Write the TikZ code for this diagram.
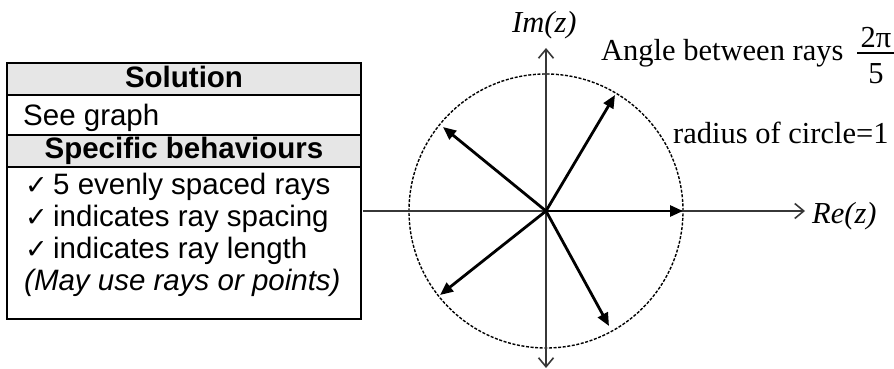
\documentclass[tikz,border=0pt]{standalone}
\usepackage{fontspec}
\setmainfont{Liberation Serif}
\newfontfamily\tabfont{Liberation Sans}
\newfontfamily\symfont{DejaVu Sans}
\usetikzlibrary{arrows.meta}
\definecolor{headgray}{RGB}{230,230,230}
\definecolor{axisgray}{RGB}{55,55,55}
\begin{document}
\begin{tikzpicture}[x=1pt,y=-1pt,
  cellbox/.style={draw=black,line width=2pt},
  headbox/.style={cellbox,fill=headgray},
  ttext/.style={anchor=base west,inner sep=0pt,font=\tabfont\fontsize{29.5}{34}\selectfont},
  thead/.style={anchor=base,inner sep=0pt,font=\tabfont\bfseries\fontsize{29.5}{34}\selectfont},
  tick/.style={anchor=base west,inner sep=0pt,font=\symfont\fontsize{27}{32}\selectfont},
  serif/.style={anchor=base west,inner sep=0pt,font=\fontsize{30.5}{36}\selectfont},
  axisline/.style={draw=axisgray,line width=2pt},
  barb/.tip={Straight Barb[length=9pt,width=15pt,line width=1.6pt]},
  ray/.style={draw=black,line width=2.8pt,-{Triangle[length=13pt,width=11pt]}},
  unitcircle/.style={draw=black,line width=1.4pt,dash pattern=on 3pt off 1.6pt}
]
\useasboundingbox (0,0) rectangle (894,369);

% ---- table ----
\path[headbox] (7,63) rectangle (361,95);
\path[cellbox] (7,95) rectangle (361,134.5);
\path[headbox] (7,134.5) rectangle (361,167);
\path[cellbox] (7,167) rectangle (361,319);
\node[thead] (sol) at (184,88) {Solution};
\node[ttext] (see) at (23,125) {See graph};
\node[thead] (spec) at (184,158) {Specific behaviours};
\node[tick] (c1) at (25,194) {✓};
\node[ttext] (t1) at (53,194) {5 evenly spaced rays};
\node[tick] (c2) at (25,226) {✓};
\node[ttext] (t2) at (53,226) {indicates ray spacing};
\node[tick] (c3) at (25,258) {✓};
\node[ttext] (t3) at (53,258) {indicates ray length};
\node[ttext,font=\tabfont\itshape\fontsize{29.5}{34}\selectfont] (t4) at (24,290) {(May use rays or points)};

% ---- graph ----
\coordinate (O) at (546,211);
\coordinate (xl) at (363,211);
\coordinate (xr) at (805,211);
\coordinate (yt) at (546,48);
\coordinate (yb) at (546,368);
\draw[unitcircle] (O) circle[radius=137pt];
\draw[axisline,-{barb}] (xl) -- (xr);
\draw[axisline,{barb}-{barb}] (yt) -- (yb);

\coordinate (r0) at (683,211);
\coordinate (r1) at (615,95);
\coordinate (r2) at (443,127);
\coordinate (r3) at (440,295);
\coordinate (r4) at (609,326);
\foreach \r in {r0,r1,r2,r3,r4} \draw[ray] (O) -- (\r);

\node[serif,font=\itshape\fontsize{30.5}{36}\selectfont] (im) at (512,33) {Im(z)};
\node[serif,font=\itshape\fontsize{30.5}{36}\selectfont] (re) at (812,223) {Re(z)};
\node[serif] (ang) at (601,60) {Angle between rays};
\node[serif,anchor=base] (num) at (876,48) {2π};
\node[serif,anchor=base] (den) at (876,83) {5};
\draw[line width=1.4pt] (857,53) -- (894,53);
\node[serif] (rad) at (673,143) {radius of circle=1};
\end{tikzpicture}
\end{document}
